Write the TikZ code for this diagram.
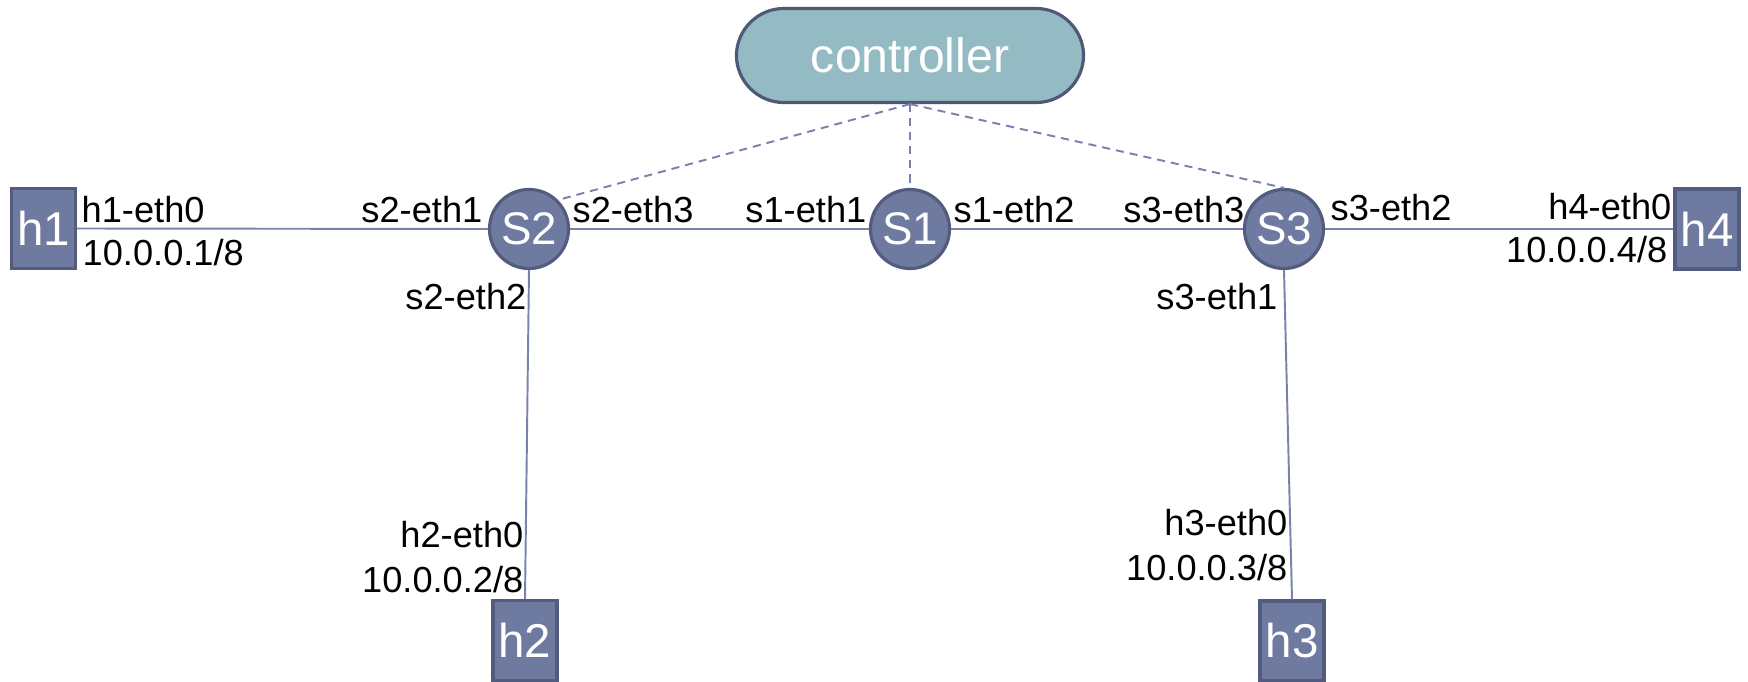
\documentclass[tikz,border=0pt]{standalone}
\usepackage{fontspec}
\setmainfont{Liberation Sans}
\definecolor{ctrlfill}{HTML}{94BAC3}
\definecolor{ctrlline}{HTML}{4F5877}
\definecolor{nodefill}{HTML}{6F7AA0}
\definecolor{nodeline}{HTML}{535C7E}
\definecolor{linkcol}{HTML}{7882AC}
\begin{document}
\begin{tikzpicture}[x=0.01cm,y=-0.01cm,
  ctrlbox/.style={draw=ctrlline,fill=ctrlfill,line width=0.9pt,rounded corners=4.75mm,
    minimum width=34.7mm,minimum height=9.4mm,inner sep=0pt,text=white,
    font=\fontsize{13.7}{16}\selectfont},
  hostbox/.style={draw=nodeline,fill=nodefill,line width=0.9pt,minimum width=6.4mm,
    minimum height=8.0mm,inner sep=0pt,text=white,font=\fontsize{13.5}{16}\selectfont},
  switchnode/.style={circle,draw=nodeline,fill=nodefill,line width=0.9pt,minimum size=7.9mm,
    inner sep=0pt,text=white,font=\fontsize{13}{15}\selectfont},
  link/.style={draw=linkcol,line width=0.55pt},
  ctrllink/.style={draw=linkcol,line width=0.55pt,dash pattern=on 2.3pt off 1.7pt},
  lbl/.style={inner sep=0pt,font=\fontsize{10.3}{12}\selectfont}]
\useasboundingbox (0,0) rectangle (1748,682);
% nodes
\node[ctrlbox] (ctrl) at (910,55.5) {controller};
\node[hostbox] (h1) at (43.5,228.5) {h1};
\node[hostbox] (h4) at (1707,229) {h4};
\node[hostbox] (h2) at (525,640.5) {h2};
\node[hostbox] (h3) at (1292,641) {h3};
\node[switchnode] (s2) at (529,229) {S2};
\node[switchnode] (s1) at (910,229) {S1};
\node[switchnode] (s3) at (1284,229) {S3};
% links
\draw[link] (h1.east) -- (s2.west);
\draw[link] (s2.east) -- (s1.west);
\draw[link] (s1.east) -- (s3.west);
\draw[link] (s3.east) -- (h4.west);
\draw[link] (s2.south) -- (h2.north);
\draw[link] (s3.south) -- (h3.north);
\draw[ctrllink] (ctrl.south) -- (s2.45);
\draw[ctrllink] (ctrl.south) -- (s1.north);
\draw[ctrllink] (ctrl.south) -- (s3.north);
% labels
\node[lbl,anchor=base west] (l1) at (81,223) {h1-eth0};
\node[lbl,anchor=base west] (l2) at (82,266) {10.0.0.1/8};
\node[lbl,anchor=base east] (l3) at (483,223) {s2-eth1};
\node[lbl,anchor=base west] (l4) at (572,223) {s2-eth3};
\node[lbl,anchor=base east] (l5) at (867,223) {s1-eth1};
\node[lbl,anchor=base west] (l6) at (953,222) {s1-eth2};
\node[lbl,anchor=base east] (l7) at (1245,222) {s3-eth3};
\node[lbl,anchor=base west] (l8) at (1330,221) {s3-eth2};
\node[lbl,anchor=base east] (l9) at (1672,219) {h4-eth0};
\node[lbl,anchor=base east] (l10) at (1668,263) {10.0.0.4/8};
\node[lbl,anchor=base east] (l11) at (527,310) {s2-eth2};
\node[lbl,anchor=base east] (l12) at (1278,310) {s3-eth1};
\node[lbl,anchor=base east] (l13) at (524,547) {h2-eth0};
\node[lbl,anchor=base east] (l14) at (524,592) {10.0.0.2/8};
\node[lbl,anchor=base east] (l15) at (1288,535) {h3-eth0};
\node[lbl,anchor=base east] (l16) at (1288,580) {10.0.0.3/8};
\end{tikzpicture}
\end{document}
